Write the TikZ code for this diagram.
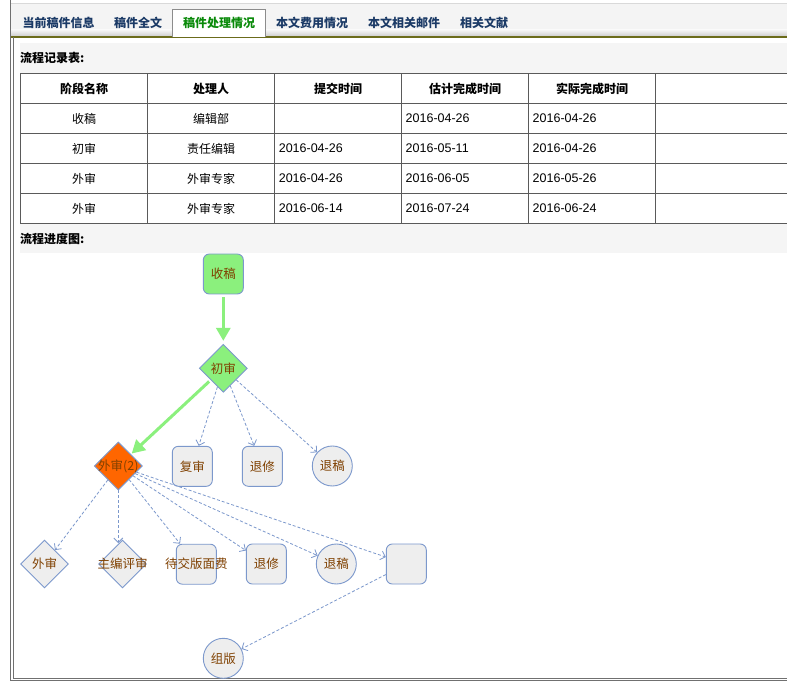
\documentclass[tikz,border=0pt]{standalone}
\usepackage{fontspec}
\setmainfont{Liberation Sans}
\newfontfamily\cjk{Noto Sans CJK SC}
\usetikzlibrary{shapes.geometric,arrows.meta}
\definecolor{tabbg}{HTML}{F4F4F4}
\definecolor{bandgray}{HTML}{F5F5F5}
\definecolor{olive}{HTML}{6B6B1A}
\definecolor{frame}{HTML}{707070}
\definecolor{tline}{HTML}{5A5A5A}
\definecolor{tabtext}{HTML}{1B3A66}
\definecolor{tabgreen}{HTML}{0A8A0A}
\definecolor{nodeblue}{HTML}{7C98CC}
\definecolor{nodefill}{HTML}{EEEEEE}
\definecolor{lgreen}{HTML}{8BF07D}
\definecolor{orangefill}{HTML}{FF6600}
\definecolor{brown}{HTML}{7F4000}
\newcommand{\nt}[1]{\makebox[0pt]{#1}}
\begin{document}
\begin{tikzpicture}[x=1pt,y=-1pt,
  every node/.style={font=\fontsize{12pt}{14pt}\selectfont},
  tabtxt/.style={font=\cjk\bfseries\fontsize{12pt}{14pt}\selectfont, text=tabtext, inner sep=0pt},
  hdr/.style={font=\cjk\bfseries\fontsize{12pt}{14pt}\selectfont, text=black, inner sep=0pt},
  cell/.style={font=\cjk\fontsize{12pt}{14pt}\selectfont, text=black, inner sep=0pt},
  datecell/.style={font=\fontsize{12.5pt}{14pt}\selectfont, text=black, inner sep=0pt, anchor=west},
  fnode/.style={draw=nodeblue, line width=0.9pt, fill=nodefill, text=brown, inner sep=0pt,
     font=\cjk\fontsize{12.5pt}{14pt}\selectfont},
  boxnode/.style={fnode, rectangle, rounded corners=6pt, minimum width=40pt, minimum height=40pt},
  dianode/.style={fnode, diamond, minimum width=48pt, minimum height=48pt},
  circnode/.style={fnode, circle, minimum size=40pt},
  greenarrow/.style={draw=lgreen, line width=3pt, -{Triangle[length=13pt,width=14pt]}},
  dasharrow/.style={draw=nodeblue, line width=0.8pt, dash pattern=on 3pt off 2pt,
     -{Straight Barb[length=4.5pt,width=9pt,line width=0.8pt]}}
]
\useasboundingbox (0,0) rectangle (787,684);
\fill[white] (0,0) rectangle (787,684);
% tab bar
\fill[tabbg] (10,3) rectangle (787,37);
\shade[top color=tabbg, bottom color=black!20] (10,30) rectangle (787,36.5);
\draw[black!15] (10,3) -- (787,3);
\draw[olive, line width=1.2pt] (10,37) -- (787,37);
\draw[fill=white, draw=black!45] (172,37) -- (172,9) -- (265.5,9) -- (265.5,37);
\node[tabtxt] (t1) at (58.5,23) {当前稿件信息};
\node[tabtxt] (t2) at (138,23) {稿件全文};
\node[tabtxt, text=tabgreen] (t3) at (219,23) {稿件处理情况};
\node[tabtxt] (t4) at (312,23) {本文费用情况};
\node[tabtxt] (t5) at (404,23) {本文相关邮件};
\node[tabtxt] (t6) at (484,23) {相关文献};
% frame
\draw[frame] (10.5,0) -- (10.5,680.5) -- (787,680.5);
\draw[frame] (13,37.5) -- (13,678) -- (787,678);
% bands
\fill[bandgray] (20,42.7) rectangle (787,72.7);
\node[hdr, anchor=west] (lbl1) at (20,58) {流程记录表:};
\fill[bandgray] (20,223.3) rectangle (787,253.5);
\node[hdr, anchor=west] (lbl2) at (20,239) {流程进度图:};
% table
\draw[tline] (20,73.3) -- (788,73.3);
\draw[tline] (20,103.3) -- (788,103.3);
\draw[tline] (20,133.3) -- (788,133.3);
\draw[tline] (20,163.3) -- (788,163.3);
\draw[tline] (20,193.3) -- (788,193.3);
\draw[tline] (20,223.3) -- (788,223.3);
\draw[tline] (20.5,73.3) -- (20.5,223.3);
\draw[tline] (147.6,73.3) -- (147.6,223.3);
\draw[tline] (274.6,73.3) -- (274.6,223.3);
\draw[tline] (401.5,73.3) -- (401.5,223.3);
\draw[tline] (528.5,73.3) -- (528.5,223.3);
\draw[tline] (655.5,73.3) -- (655.5,223.3);
\node[hdr] (h1) at (84,88.5) {阶段名称};
\node[hdr] (h2) at (211,88.5) {处理人};
\node[hdr] (h3) at (338,88.5) {提交时间};
\node[hdr] (h4) at (465,88.5) {估计完成时间};
\node[hdr] (h5) at (592,88.5) {实际完成时间};
% row 1
\node[cell] (r1a) at (84,118.5) {收稿};
\node[cell] (r1b) at (211,118.5) {编辑部};
\node[datecell] (r1d) at (405.5,118) {2016-04-26};
\node[datecell] (r1e) at (532.5,118) {2016-04-26};
% row 2
\node[cell] (r2a) at (84,148.5) {初审};
\node[cell] (r2b) at (211,148.5) {责任编辑};
\node[datecell] (r2c) at (278.6,148) {2016-04-26};
\node[datecell] (r2d) at (405.5,148) {2016-05-11};
\node[datecell] (r2e) at (532.5,148) {2016-04-26};
% row 3
\node[cell] (r3a) at (84,178.5) {外审};
\node[cell] (r3b) at (211,178.5) {外审专家};
\node[datecell] (r3c) at (278.6,178) {2016-04-26};
\node[datecell] (r3d) at (405.5,178) {2016-06-05};
\node[datecell] (r3e) at (532.5,178) {2016-05-26};
% row 4
\node[cell] (r4a) at (84,208.5) {外审};
\node[cell] (r4b) at (211,208.5) {外审专家};
\node[datecell] (r4c) at (278.6,208) {2016-06-14};
\node[datecell] (r4d) at (405.5,208) {2016-07-24};
\node[datecell] (r4e) at (532.5,208) {2016-06-24};
% flow chart nodes
\node[boxnode, fill=lgreen] (shougao) at (223.3,274) {\nt{收稿}};
\node[dianode, fill=lgreen] (chushen) at (223.3,368.3) {\nt{初审}};
\node[dianode, fill=orangefill] (waishen2) at (118.3,466) {\nt{外审(2)}};
\node[boxnode] (fushen) at (192.3,466.3) {\nt{复审}};
\node[boxnode] (tuixiuA) at (262.3,466.3) {\nt{退修}};
\node[circnode] (tuigaoA) at (332.3,466) {\nt{退稿}};
\node[dianode] (waishen) at (44.5,564) {\nt{外审}};
\node[dianode] (zhubian) at (122.5,564) {\nt{主编评审}};
\node[boxnode] (daijiao) at (196.3,564.2) {\nt{待交版面费}};
\node[boxnode] (tuixiuB) at (266.3,564) {\nt{退修}};
\node[circnode] (tuigaoB) at (336.3,564) {\nt{退稿}};
\node[boxnode] (blank) at (406.3,564) {};
\node[circnode] (zuban) at (223.3,658.3) {\nt{组版}};
\coordinate (zbtop) at ([yshift=-3.5pt]waishen2.south |- zhubian.north);
% connectors
\draw[greenarrow, shorten <=3pt, shorten >=3pt] (shougao) -- (chushen);
\draw[greenarrow, shorten <=2pt, shorten >=1pt] (chushen) -- (waishen2);
\draw[dasharrow] (chushen) -- (fushen);
\draw[dasharrow] (chushen) -- (tuixiuA);
\draw[dasharrow] (chushen) -- (tuigaoA);
\draw[dasharrow] (waishen2) -- (waishen);
\draw[dasharrow] (waishen2.south) -- (zbtop);
\draw[dasharrow] (waishen2) -- (daijiao);
\draw[dasharrow] (waishen2) -- (tuixiuB);
\draw[dasharrow] (waishen2) -- (tuigaoB);
\draw[dasharrow] (waishen2) -- (blank);
\draw[dasharrow] (blank) -- (zuban);
\end{tikzpicture}
\end{document}
